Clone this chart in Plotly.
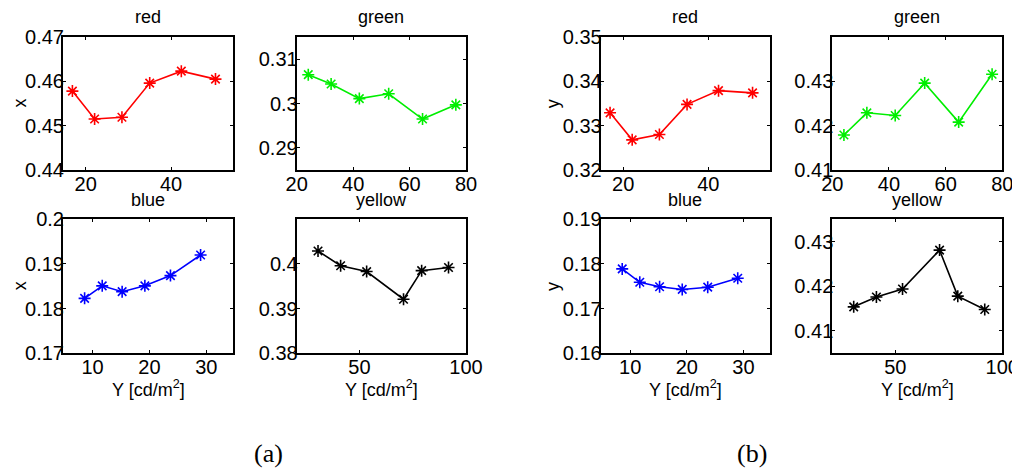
import plotly.graph_objects as go

# ---------------- data ----------------
red_Y = [16.9, 22.1, 28.5, 35.0, 42.4, 50.4]
green_Y = [24.1, 32.2, 42.2, 52.6, 64.6, 76.4]
blue_Y = [8.6, 11.7, 15.2, 19.2, 23.7, 29.0]
yellow_Y = [30.6, 41.2, 53.4, 70.7, 79.2, 91.8]

red_x = [0.4578, 0.4515, 0.4519, 0.4596, 0.4623, 0.4605]
green_x = [0.3065, 0.3044, 0.3011, 0.3022, 0.2965, 0.2997]
blue_x = [0.1823, 0.1851, 0.1838, 0.1851, 0.1874, 0.1920]
yellow_x = [0.4029, 0.3996, 0.3983, 0.3921, 0.3985, 0.3992]

red_y = [0.3329, 0.3268, 0.3280, 0.3348, 0.3379, 0.3374]
green_y = [0.4179, 0.4229, 0.4223, 0.4296, 0.4208, 0.4316]
blue_y = [0.1789, 0.1759, 0.1749, 0.1743, 0.1748, 0.1768]
yellow_y = [0.4154, 0.4176, 0.4194, 0.4281, 0.4178, 0.4148]

names = ["red", "green", "blue", "yellow"]
colors = ["#ff0000", "#00ee00", "#0000ff", "#000000"]

x_ranges = [[14.7, 54.5], [20, 80], [4.8, 34.7], [20.6, 100]]
x_ticks = [[20, 40], [20, 40, 60, 80], [10, 20, 30], [50, 100]]

ya_ranges = [[0.44, 0.47], [0.285, 0.315], [0.17, 0.20], [0.38, 0.41]]
ya_ticks = [[0.44, 0.45, 0.46, 0.47], [0.29, 0.30, 0.31], [0.17, 0.18, 0.19, 0.20], [0.38, 0.39, 0.40]]
ya_text = [["0.44", "0.45", "0.46", "0.47"], ["0.29", "0.3", "0.31"], ["0.17", "0.18", "0.19", "0.2"], ["0.38", "0.39", "0.4"]]

yb_ranges = [[0.32, 0.35], [0.41, 0.44], [0.16, 0.19], [0.405, 0.435]]
yb_ticks = [[0.32, 0.33, 0.34, 0.35], [0.41, 0.42, 0.43], [0.16, 0.17, 0.18, 0.19], [0.41, 0.42, 0.43]]
yb_text = [["0.32", "0.33", "0.34", "0.35"], ["0.41", "0.42", "0.43"], ["0.16", "0.17", "0.18", "0.19"], ["0.41", "0.42", "0.43"]]

Xs = [red_Y, green_Y, blue_Y, yellow_Y]
Ya = [red_x, green_x, blue_x, yellow_x]
Yb = [red_y, green_y, blue_y, yellow_y]

# ---------------- layout geometry ----------------
OFF = 8                     # page body margin
W, H = 1020 - OFF, 469 - OFF
col_px = [(63, 233), (296.7, 466), (600.7, 770), (832.3, 1002.3)]
row_px = [(37, 170), (219.3, 353.3)]


def px(v):
    return (v - OFF) / W


def py(v):
    return 1 - (v - OFF) / H


FONT = "Liberation Sans"

fig = go.Figure()
layout = dict(
    width=W, height=H, margin=dict(l=0, r=0, t=0, b=0, pad=0, autoexpand=False),
    paper_bgcolor="white", plot_bgcolor="white", showlegend=False,
    font=dict(family=FONT, size=18, color="black"),
)
annotations = []

k = 0
for panel in range(2):  # (a) x, (b) y
    ydata = Ya if panel == 0 else Yb
    yranges = ya_ranges if panel == 0 else yb_ranges
    yticks = ya_ticks if panel == 0 else yb_ticks
    ytext = ya_text if panel == 0 else yb_text
    for i in range(4):
        k += 1
        r = i // 2
        c = panel * 2 + (i % 2)
        x0, x1 = col_px[c]
        y0, y1 = row_px[r]
        xa = "x" if k == 1 else f"x{k}"
        yaname = "y" if k == 1 else f"y{k}"
        fig.add_trace(go.Scatter(
            x=Xs[i], y=ydata[i], xaxis=xa, yaxis=yaname, mode="lines+markers",
            line=dict(color=colors[i], width=1.6),
            marker=dict(symbol="asterisk-open", size=10,
                        line=dict(color=colors[i], width=1.6), color=colors[i]),
        ))
        axcommon = dict(showline=True, linecolor="black", linewidth=2, mirror="ticks",
                        ticks="inside", ticklen=3, tickwidth=1, tickcolor="black",
                        showgrid=False, zeroline=False, automargin=False,
                        tickfont=dict(family=FONT, size=20, color="black"))
        layout["xaxis" if k == 1 else f"xaxis{k}"] = dict(
            domain=[px(x0), px(x1)], range=x_ranges[i], tickvals=x_ticks[i],
            anchor=yaname, ticklabelstandoff=-5, **axcommon)
        layout["yaxis" if k == 1 else f"yaxis{k}"] = dict(
            domain=[py(y1), py(y0)], range=yranges[i], tickvals=yticks[i],
            ticktext=ytext[i], anchor=xa, ticklabelstandoff=-7, **axcommon)
        # subplot title
        annotations.append(dict(
            text=names[i], x=px((x0 + x1) / 2), y=py(17 if r == 0 else 200),
            xref="paper", yref="paper", xanchor="center", yanchor="middle",
            showarrow=False, font=dict(family=FONT, size=18, color="black")))
        # x axis title on bottom row
        if r == 1:
            annotations.append(dict(
                text="Y [cd/m<sup>2</sup>]", x=px((x0 + x1) / 2), y=py(388),
                xref="paper", yref="paper", xanchor="center", yanchor="middle",
                showarrow=False, font=dict(family=FONT, size=18, color="black")))
        # y axis title on left column
        if i % 2 == 0:
            if panel == 0:
                lab = dict(text="x", x=0, xanchor="left")
            else:
                lab = dict(text="y", x=px(x0 - 47), xanchor="center")
            annotations.append(dict(
                y=py((y0 + y1) / 2), xref="paper", yref="paper", yanchor="middle",
                textangle=-90, showarrow=False,
                font=dict(family=FONT, size=18, color="black"), **lab))

annotations.append(dict(text="(a)", x=px(268), y=py(453), xref="paper", yref="paper",
                        xanchor="center", yanchor="middle", showarrow=False,
                        font=dict(family="Liberation Serif", size=26, color="black")))
annotations.append(dict(text="(b)", x=px(752), y=py(453), xref="paper", yref="paper",
                        xanchor="center", yanchor="middle", showarrow=False,
                        font=dict(family="Liberation Serif", size=26, color="black")))

layout["annotations"] = annotations
fig.update_layout(**layout)
fig.write_html("out.html")
